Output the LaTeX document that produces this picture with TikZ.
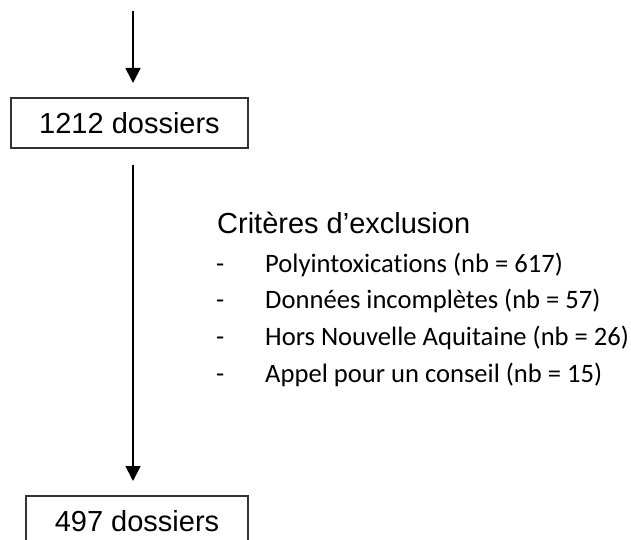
\documentclass[tikz,border=0pt]{standalone}
\usepackage{fontspec}
\setmainfont{Liberation Sans}
\newfontfamily\calfont[Ligatures={NoCommon}]{Carlito}
\usetikzlibrary{arrows.meta}
\begin{document}
\begin{tikzpicture}[x=1pt,y=-1pt,
  countbox/.style={draw=black!80,line width=1.1pt,inner sep=0pt,font=\fontsize{29}{35}\selectfont},
  flowarrow/.style={line width=1.7pt,-{Triangle[width=15pt,length=15pt]}},
  titletext/.style={anchor=base west,inner sep=0pt,font=\fontsize{29}{35}\selectfont},
  itemtext/.style={anchor=base west,inner sep=0pt,font=\calfont\fontsize{26.6}{32}\selectfont}]
\useasboundingbox (0,0) rectangle (631,540);
\fill[white] (0,0) rectangle (631,540);
% boxes
\node[countbox,minimum width=237pt,minimum height=50pt] (b1) at (129.5,123) {1212 dossiers};
\node[countbox,minimum width=222pt,minimum height=50pt] (b2) at (137,521) {497 dossiers};
% arrows
\coordinate (s1) at (133,11);
\coordinate (e1) at (133,83);
\coordinate (s2) at (133,165);
\coordinate (e2) at (133,481);
\draw[flowarrow] (s1) -- (e1);
\draw[flowarrow] (s2) -- (e2);
% exclusion criteria
\node[titletext] (t) at (217,233) {Critères d’exclusion};
\node[itemtext] (d1) at (216,272) {-};
\node[itemtext] (i1) at (265,272) {Polyintoxications (nb = 617)};
\node[itemtext] (d2) at (216,308.5) {-};
\node[itemtext] (i2) at (265,308.5) {Données incomplètes (nb = 57)};
\node[itemtext] (d3) at (216,345.5) {-};
\node[itemtext] (i3) at (265,345.5) {Hors Nouvelle Aquitaine (nb = 26)};
\node[itemtext] (d4) at (216,382.5) {-};
\node[itemtext] (i4) at (265,382.5) {Appel pour un conseil (nb = 15)};
\end{tikzpicture}
\end{document}
